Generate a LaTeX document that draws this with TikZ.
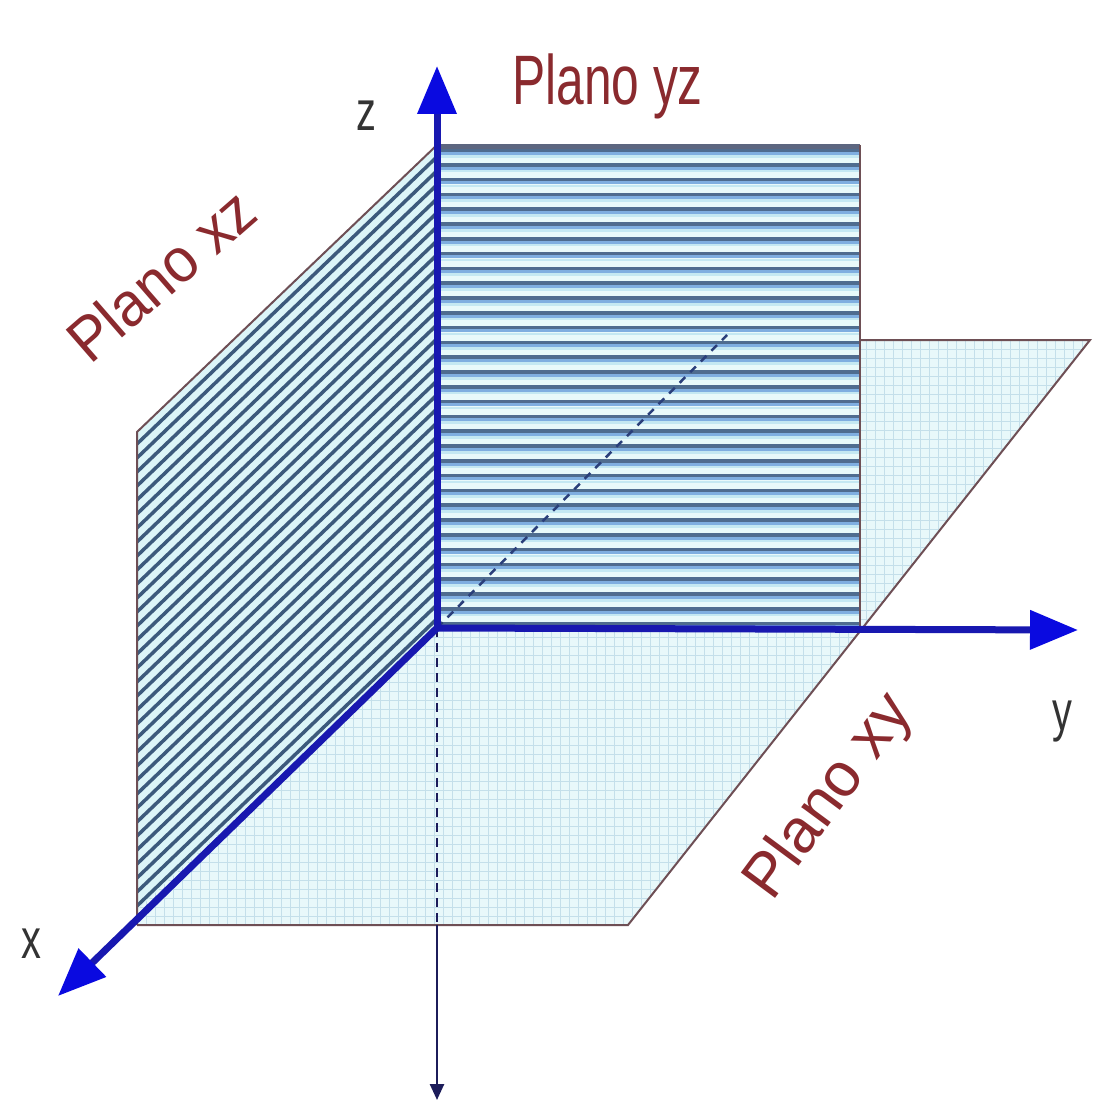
\documentclass[tikz,border=0pt]{standalone}
\usepackage{fontspec}
\setmainfont{Liberation Sans}
\usetikzlibrary{arrows.meta}
\definecolor{axisblue}{HTML}{1818B0}
\definecolor{tipblue}{HTML}{0A0AE0}
\definecolor{edgec}{HTML}{6E4F55}
\definecolor{labred}{HTML}{8A2A2E}
\definecolor{labgray}{HTML}{333333}
\definecolor{gridbg}{HTML}{E8F8FA}
\definecolor{gridln}{HTML}{C4DFEA}
\definecolor{yzbg}{HTML}{E8F9FA}
\definecolor{yzdark}{HTML}{4F6C8F}
\definecolor{yzmid}{HTML}{7FAEE0}
\definecolor{yzlight}{HTML}{C4E8F2}
\definecolor{yztop}{HTML}{5C6680}
\definecolor{xzbg}{HTML}{DCF5F8}
\definecolor{xzdark}{HTML}{3C5A7C}
\definecolor{downc}{HTML}{1C1C5A}
\definecolor{hidc}{HTML}{2A3F7A}
\tikzset{
  mainaxis/.style={draw=axisblue, line width=7pt, -{Triangle[length=48pt,width=38pt,color=tipblue]}},
  downaxis/.style={draw=downc, line width=2.5pt},
  hidden/.style={draw=hidc, line width=2.5pt, dash pattern=on 8pt off 7pt},
  planeedge/.style={draw=edgec, line width=2pt},
  planelab/.style={font=\fontsize{70}{70}\selectfont, text=labred, inner sep=0pt},
  rotlab/.style={font=\fontsize{62}{62}\selectfont, text=labred, inner sep=0pt},
  axlab/.style={font=\fontsize{56}{56}\selectfont, text=labgray, inner sep=0pt}
}
\begin{document}
\begin{tikzpicture}[x=1pt,y=-1pt]
\useasboundingbox (0,0) rectangle (1095,1102);
\fill[white] (0,0) rectangle (1095,1102);

\coordinate (O) at (437,628);
\coordinate (Ztip) at (437,66);
\coordinate (Ytip) at (1078,630);
\coordinate (Xtip) at (58,996);
\coordinate (Dmid) at (437,925);
\coordinate (Dtip) at (437,1100);
\coordinate (B) at (727,335);

% ---- xy plane (grid) ----
\begin{scope}
  \clip (137,925) -- (628,925) -- (1090,340) -- (437,340) -- (137,600) -- cycle;
  \fill[gridbg] (130,330) rectangle (1095,930);
  \foreach \gx in {137,146,...,1095} \draw[gridln, line width=1pt] (\gx,330) -- (\gx,930);
  \foreach \gy in {340,349,...,930} \draw[gridln, line width=1pt] (130,\gy) -- (1095,\gy);
\end{scope}
\draw[planeedge] (137,925) -- (628,925) -- (1090,340) -- (860,340);

% ---- xz plane (diagonal stripes) ----
\begin{scope}
  \clip (437,145) -- (437,628) -- (137,910) -- (137,432) -- cycle;
  \fill[xzbg] (130,140) rectangle (440,930);
  \foreach \c in {561,575,...,1050} \draw[xzdark, line width=3.5pt] (120,{\c-0.957*120}) -- (450,{\c-0.957*450});
\end{scope}
\draw[planeedge] (437,145) -- (137,432) -- (137,925);

% ---- yz plane (horizontal stripes) ----
\begin{scope}
  \clip (437,145) rectangle (860,628);
  \fill[yzbg] (437,145) rectangle (860,628);
  \foreach \i in {0,...,32} {
    \draw[yzdark, line width=3.6pt] (437,{150+14.8*\i}) -- (860,{150+14.8*\i});
    \draw[yzmid, line width=3pt] (437,{153.3+14.8*\i}) -- (860,{153.3+14.8*\i});
    \draw[yzlight, line width=2.5pt] (437,{156.3+14.8*\i}) -- (860,{156.3+14.8*\i});
  }
\end{scope}
\draw[yztop, line width=5pt] (437,147) -- (860,147);
\draw[planeedge] (860,145) -- (860,628);

% ---- hidden negative x axis ----
\draw[hidden] (O) -- (B);

% ---- negative z (down) axis ----
\draw[downaxis, dash pattern=on 9pt off 6pt] (O) -- (Dmid);
\draw[downaxis, -{Triangle[length=16pt,width=14pt]}] (Dmid) -- (Dtip);

% ---- main axes ----
\draw[mainaxis] (O) -- (Ztip);
\draw[mainaxis] (O) -- (Ytip);
\draw[mainaxis] (O) -- (Xtip);

% ---- axis labels ----
\node[axlab] (zl) at (366,116) {\scalebox{0.71}[1]{z}};
\node[axlab] (yl) at (1062,722) {\scalebox{0.71}[1]{y}};
\node[axlab] (xl) at (31,944) {\scalebox{0.71}[1]{x}};

% ---- plane labels ----
\node[planelab, anchor=base west] (pyz) at (512,105) {\scalebox{0.71}[1]{Plano yz}};
\node[rotlab, anchor=base west, rotate=41] (pxz) at (90,366) {\scalebox{0.95}[1]{Plano xz}};
\node[rotlab, anchor=base west, rotate=53.5] (pxy) at (772,903) {\scalebox{1.0}[1]{Plano xy}};
\end{tikzpicture}
\end{document}
